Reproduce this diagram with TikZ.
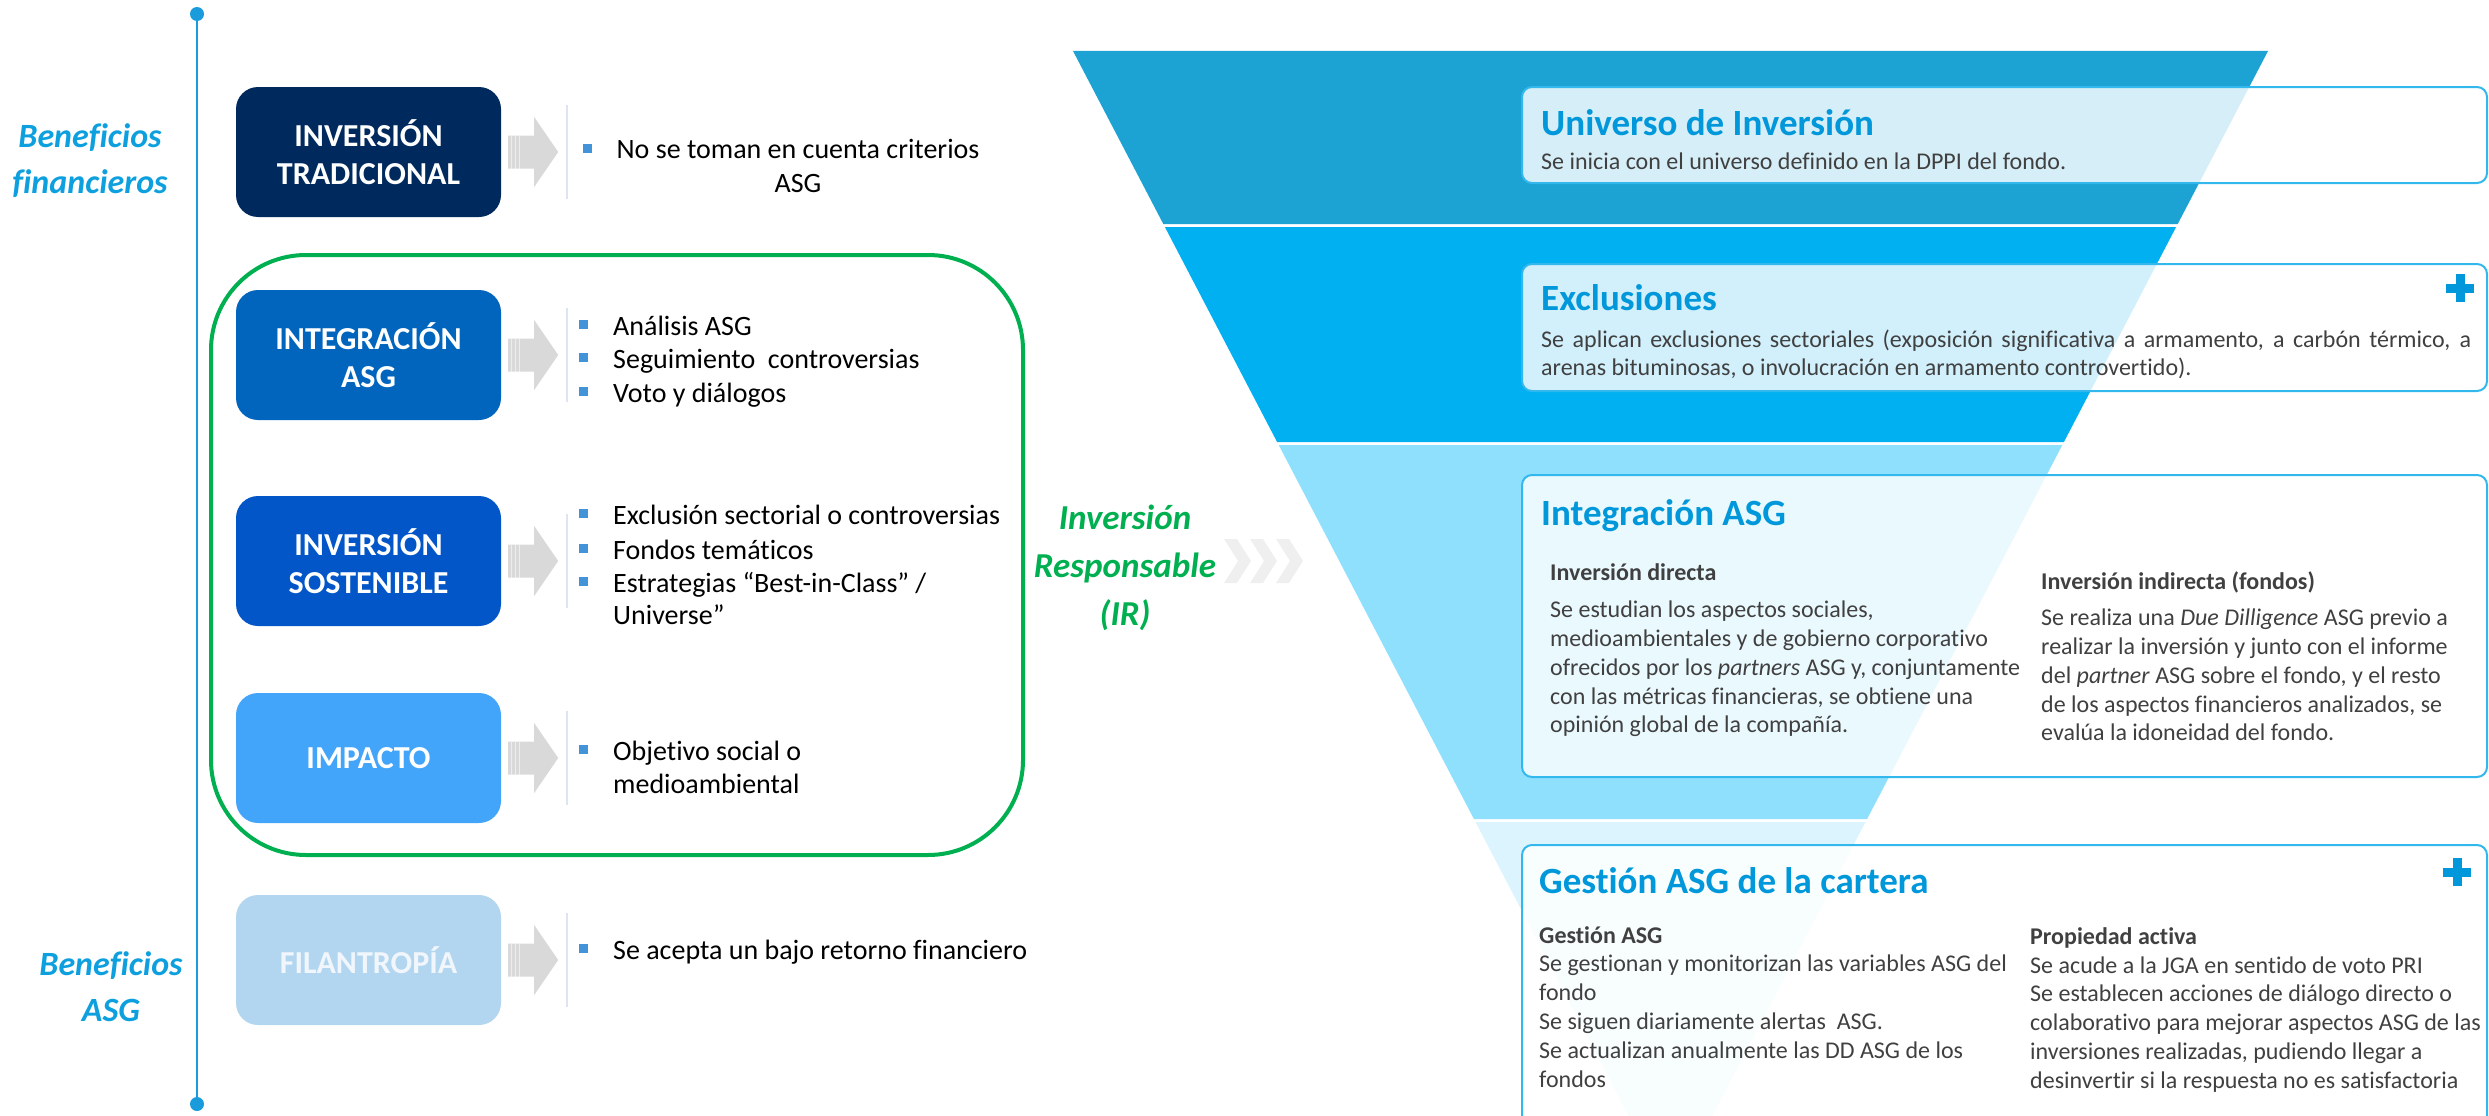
\documentclass[tikz,border=0pt]{standalone}
\usepackage{fontspec}
\setmainfont{Carlito}[Ligatures=NoCommon]
\usetikzlibrary{calc}
\definecolor{axisblue}{HTML}{1A9BDB}
\definecolor{benblue}{HTML}{0EA0DE}
\definecolor{cTrad}{HTML}{002A5E}
\definecolor{cInt}{HTML}{0265BD}
\definecolor{cSos}{HTML}{0256C8}
\definecolor{cImp}{HTML}{43A5FA}
\definecolor{cFil}{HTML}{B2D6EF}
\definecolor{filtxt}{HTML}{F0F6FB}
\definecolor{arrgray}{HTML}{D9D9D9}
\definecolor{divline}{HTML}{DCE6F2}
\definecolor{bulblue}{HTML}{4393D8}
\definecolor{irgreen}{HTML}{00B050}
\definecolor{chev}{HTML}{EFEFEF}
\definecolor{band1}{HTML}{1CA3D4}
\definecolor{band2}{HTML}{00B0F0}
\definecolor{band3}{HTML}{8FE0FC}
\definecolor{band4}{HTML}{DCF4FD}
\definecolor{ttlblue}{HTML}{0098DA}
\definecolor{bodygray}{HTML}{404040}
\definecolor{boxborder}{HTML}{33B8EE}
\newcommand\grayarr[1]{%
  \fill[arrgray] ($(#1.east)+(7,-16.5)$) -- ++(26,0) -- ++(0,-18.5) -- ++(24,35) -- ++(-24,35) -- ++(0,-18.5) -- ++(-26,0) -- cycle;
  \foreach \s in {10,14,18} \draw[white, opacity=0.55, line width=1.2pt] ($(#1.east)+(\s,-16.5)$) -- ++(0,33);
  \draw[divline, line width=1.5pt] ($(#1.east)+(66,-47)$) -- ++(0,94);
}
\newcommand\bul[2]{\fill[bulblue] (#1-4.5,#2-15.5) rectangle (#1+4.5,#2-6.5);}
\begin{document}
\begin{tikzpicture}[x=1pt,y=-1pt,
  lbox/.style={rectangle, rounded corners=22pt, minimum width=265pt, minimum height=130pt, inner sep=0pt, align=center, text=white, font=\fontsize{32}{38}\selectfont\bfseries},
  ltxt/.style={anchor=base west, inner sep=0pt, font=\fontsize{28}{33}\selectfont, text=black},
  ben/.style={anchor=base, inner sep=0pt, font=\fontsize{34}{46}\selectfont\bfseries\itshape, text=benblue},
  irt/.style={anchor=base, inner sep=0pt, font=\fontsize{35}{48}\selectfont\bfseries\itshape, text=irgreen},
  rbox/.style={rectangle, rounded corners=10pt, draw=boxborder, line width=2pt, fill=white, fill opacity=0.82, minimum width=965pt, inner sep=0pt},
  ttl/.style={anchor=base west, inner sep=0pt, font=\fontsize{37}{44}\selectfont\bfseries, text=ttlblue},
  bdy/.style={anchor=base west, inner sep=0pt, font=\fontsize{24}{29}\selectfont, text=bodygray},
  sub/.style={anchor=base west, inner sep=0pt, font=\fontsize{24}{29}\selectfont\bfseries, text=bodygray}
]
\useasboundingbox (0,0) rectangle (2489,1116);
\clip (0,0) rectangle (2489,1116);

% ---------- axis ----------
\coordinate (axtop) at (197,14);
\coordinate (axbot) at (197,1104);
\draw[axisblue, line width=2.5pt] (axtop) -- (axbot);
\fill[axisblue] (axtop) circle [radius=7pt];
\fill[axisblue] (axbot) circle [radius=7pt];

\node[ben] (ben1a) at (90,147) {Beneficios};
\node[ben] (ben1b) at (90,193) {financieros};
\node[ben] (ben2a) at (111,975) {Beneficios};
\node[ben] (ben2b) at (111,1021) {ASG};

% ---------- green group ----------
\node[draw=irgreen, line width=4pt, rounded corners=95pt, minimum width=812pt, minimum height=600pt, inner sep=0pt] (grp) at (617,555) {};

% ---------- left boxes ----------
\node[lbox, fill=cTrad] (b1) at (368.5,152) {INVERSIÓN\\TRADICIONAL};
\node[lbox, fill=cInt] (b2) at (368.5,355) {INTEGRACIÓN\\ASG};
\node[lbox, fill=cSos] (b3) at (368.5,561) {INVERSIÓN\\SOSTENIBLE};
\node[lbox, fill=cImp] (b4) at (368.5,758) {IMPACTO};
\node[lbox, fill=cFil, text=filtxt] (b5) at (368.5,960) {FILANTROPÍA};

\grayarr{b1}
\grayarr{b2}
\grayarr{b3}
\grayarr{b4}
\grayarr{b5}

% ---------- left texts ----------
\bul{587}{159}
\node[anchor=base, inner sep=0pt, font=\fontsize{28}{33}\selectfont] (r1a) at (798,158) {No se toman en cuenta criterios};
\node[anchor=base, inner sep=0pt, font=\fontsize{28}{33}\selectfont] (r1b) at (798,192) {ASG};

\bul{583}{335}\bul{583}{368}\bul{583}{402}
\node[ltxt] (r2a) at (613,335) {Análisis ASG};
\node[ltxt] (r2b) at (613,368) {Seguimiento~ controversias};
\node[ltxt] (r2c) at (613,402) {Voto y diálogos};

\bul{583}{524}\bul{583}{559}\bul{583}{592}
\node[ltxt] (r3a) at (613,524) {Exclusión sectorial o controversias};
\node[ltxt] (r3b) at (613,559) {Fondos temáticos};
\node[ltxt] (r3c) at (613,592) {Estrategias “Best-in-Class” /};
\node[ltxt] (r3d) at (613,624) {Universe”};

\bul{583}{760}
\node[ltxt] (r4a) at (613,760) {Objetivo social o};
\node[ltxt] (r4b) at (613,793) {medioambiental};

\bul{583}{959}
\node[ltxt] (r5a) at (613,959) {Se acepta un bajo retorno financiero};

% ---------- IR label ----------
\node[irt] (ir1) at (1125,529) {Inversión};
\node[irt] (ir2) at (1125,577) {Responsable};
\node[irt] (ir3) at (1125,625) {(IR)};
\foreach \i in {0,1,2} {
  \fill[chev] (1224+26*\i,539) -- ++(13,0) -- ++(14,22) -- ++(-14,22) -- ++(-13,0) -- ++(14,-22) -- cycle;
}

% ---------- funnel ----------
\fill[band1] (1073,51) -- (2268,51) -- (2177.7,224) -- (1163.3,224) -- cycle;
\fill[band2] (1164.9,227) -- (2176.1,227) -- (2063.9,442) -- (1277.1,442) -- cycle;
\fill[band3] (1278.7,445) -- (2062.3,445) -- (1867.1,819) -- (1473.9,819) -- cycle;
\fill[band4] (1475.5,822) -- (1865.5,822) -- (1712.1,1116) -- (1628.9,1116) -- cycle;

% ---------- right boxes ----------
\node[rbox, minimum height=96pt] (p1) at (2004.5,135) {};
\node[rbox, minimum height=127pt] (p2) at (2004.5,327.5) {};
\node[rbox, minimum height=302pt] (p3) at (2004.5,626) {};
\node[rbox, minimum height=285pt] (p4) at (2004.5,987.5) {};

% plus signs
\fill[ttlblue] (2455.5,274) rectangle (2464.5,302);
\fill[ttlblue] (2446,283.5) rectangle (2474,292.5);
\fill[ttlblue] (2452.5,858) rectangle (2461.5,886);
\fill[ttlblue] (2443,867.5) rectangle (2471,876.5);

% box 1
\node[ttl] (t1) at (1541,135) {Universo de Inversión};
\node[bdy] (t1b) at (1541,169) {Se inicia con el universo definido en la DPPI del fondo.};

% box 2
\node[ttl] (t2) at (1541,310) {Exclusiones};
\node[bdy] (t2b) at (1541,347) {\makebox[930pt][s]{Se aplican exclusiones sectoriales (exposición significativa a armamento, a carbón térmico, a}};
\node[bdy] (t2c) at (1541,375) {arenas bituminosas, o involucración en armamento controvertido).};

% box 3
\node[ttl] (t3) at (1541,525) {Integración ASG};
\node[sub] (t3s1) at (1550,580) {Inversión directa};
\node[bdy] (t3a) at (1550,617) {Se estudian los aspectos sociales,};
\node[bdy] (t3b) at (1550,646) {medioambientales y de gobierno corporativo};
\node[bdy] (t3c) at (1550,675) {ofrecidos por los \textit{partners} ASG y, conjuntamente};
\node[bdy] (t3d) at (1550,704) {con las métricas financieras, se obtiene una};
\node[bdy] (t3e) at (1550,732) {opinión global de la compañía.};
\node[sub] (t3s2) at (2041,589) {Inversión indirecta (fondos)};
\node[bdy] (t3f) at (2041,625) {Se realiza una \textit{Due Dilligence} ASG previo a};
\node[bdy] (t3g) at (2041,654) {realizar la inversión y junto con el informe};
\node[bdy] (t3h) at (2041,683) {del \textit{partner} ASG sobre el fondo, y el resto};
\node[bdy] (t3i) at (2041,712) {de los aspectos financieros analizados, se};
\node[bdy] (t3j) at (2041,740) {evalúa la idoneidad del fondo.};

% box 4
\node[ttl] (t4) at (1539,893) {Gestión ASG de la cartera};
\node[sub] (t4s1) at (1539,943) {Gestión ASG};
\node[bdy] (t4a) at (1539,971) {Se gestionan y monitorizan las variables ASG del};
\node[bdy] (t4b) at (1539,1000) {fondo};
\node[bdy] (t4c) at (1539,1029) {Se siguen diariamente alertas~ ASG.};
\node[bdy] (t4d) at (1539,1058) {Se actualizan anualmente las DD ASG de los};
\node[bdy] (t4e) at (1539,1087) {fondos};
\node[sub] (t4s2) at (2030,944) {Propiedad activa};
\node[bdy] (t4f) at (2030,973) {Se acude a la JGA en sentido de voto PRI};
\node[bdy] (t4g) at (2030,1001) {Se establecen acciones de diálogo directo o};
\node[bdy] (t4h) at (2030,1030) {colaborativo para mejorar aspectos ASG de las};
\node[bdy] (t4i) at (2030,1059) {inversiones realizadas, pudiendo llegar a};
\node[bdy] (t4j) at (2030,1088) {desinvertir si la respuesta no es satisfactoria};
\end{tikzpicture}
\end{document}
